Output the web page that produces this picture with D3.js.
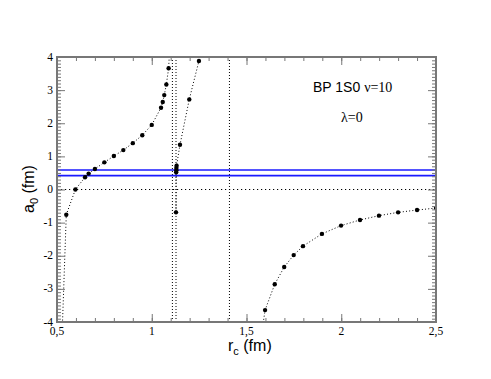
<!DOCTYPE html>
<html>
<head>
<meta charset="utf-8">
<script src="https://cdn.jsdelivr.net/npm/d3@7"></script>
<style>
  body { margin: 0; background: #fff; }
  svg { display: block; }
</style>
</head>
<body>
<div class="chart"></div>
<script>
    // Data
    var rc1 = [0.52, 0.549, 0.597, 0.648, 0.667, 0.70, 0.75, 0.80, 0.85, 0.90, 0.95, 1.00, 1.049, 1.058, 1.066, 1.077, 1.089, 1.10];
    var a1  = [-5.5, -0.76, 0.0, 0.37, 0.48, 0.62, 0.82, 1.01, 1.19, 1.40, 1.64, 1.95, 2.47, 2.64, 2.85, 3.17, 3.66, 4.8];
    var rc2 = [1.128, 1.129, 1.130, 1.130, 1.131, 1.149, 1.198, 1.249, 1.26];
    var a2  = [-0.69, 0.52, 0.58, 0.65, 0.72, 1.35, 2.72, 3.88, 4.2];
    var rc3 = [1.55, 1.598, 1.649, 1.699, 1.749, 1.798, 1.898, 1.999, 2.099, 2.199, 2.30, 2.40, 2.50];
    var a3  = [-5.56, -3.64, -2.86, -2.34, -1.98, -1.71, -1.34, -1.09, -0.92, -0.79, -0.69, -0.62, -0.56];
    // points outside the frame are only there so the line leaves the frame
    var vLines = [1.109, 1.128, 1.41];
    var blueLines = [0.59, 0.42];
    var xTicks = [0.5, 1, 1.5, 2, 2.5];
    var xTickLabels = ['0,5', '1', '1,5', '2', '2,5'];
    var yTicks = [-4, -3, -2, -1, 0, 1, 2, 3, 4];

    var W = 491, H = 379;
    var mLeft = 57, mRight = 436, mTop = 57, mBottom = 322;

    var x = d3.scaleLinear().domain([0.5, 2.5]).range([mLeft, mRight]);
    var y = d3.scaleLinear().domain([-4, 4]).range([mBottom, mTop]);

    var svg = d3.select('.chart')
        .append('svg')
            .attr('width', W)
            .attr('height', H);

    svg.append('clipPath').attr('id', 'clip')
        .append('rect')
            .attr('x', mLeft).attr('y', mTop)
            .attr('width', mRight - mLeft).attr('height', mBottom - mTop);

    var plot = svg.append('g').attr('clip-path', 'url(#clip)');

    // Reference lines
    plot.append('line')
        .attr('x1', x(0.5)).attr('x2', x(2.5))
        .attr('y1', y(0)).attr('y2', y(0))
        .attr('stroke', '#000').attr('stroke-width', 1.2)
        .attr('stroke-dasharray', '1.2,2.8');

    plot.selectAll('line.v')
        .data(vLines)
        .enter()
        .append('line')
            .attr('class', 'v')
            .attr('x1', function (d) { return x(d); })
            .attr('x2', function (d) { return x(d); })
            .attr('y1', y(-4)).attr('y2', y(4))
            .attr('stroke', '#000').attr('stroke-width', 1)
            .attr('stroke-dasharray', '1,2');

    plot.selectAll('line.blue')
        .data(blueLines)
        .enter()
        .append('line')
            .attr('class', 'blue')
            .attr('x1', x(0.5)).attr('x2', x(2.5))
            .attr('y1', function (d) { return y(d); })
            .attr('y2', function (d) { return y(d); })
            .attr('stroke', '#1a1aff').attr('stroke-width', 1.6);

    // Curves
    var line = d3.line()
        .x(function (d) { return x(d[0]); })
        .y(function (d) { return y(d[1]); });

    [[rc1, a1], [rc2, a2], [rc3, a3]].forEach(function (s) {
        var pts = s[0].map(function (r, i) { return [r, s[1][i]]; });
        plot.append('path')
            .datum(pts)
            .attr('d', line)
            .attr('fill', 'none')
            .attr('stroke', '#000').attr('stroke-width', 1)
            .attr('stroke-dasharray', '1,2.2');
        plot.selectAll(null)
            .data(pts.filter(function (d) { return d[1] > -4 && d[1] < 4; }))
            .enter()
            .append('circle')
                .attr('cx', function (d) { return x(d[0]); })
                .attr('cy', function (d) { return y(d[1]); })
                .attr('r', 2.2)
                .attr('fill', '#000');
    });

    // Axes (ticks inside the frame on all four sides)
    var axisColor = '#777';
    function styleAxis(g) {
        g.select('.domain').remove();
        g.selectAll('line').attr('stroke', axisColor).attr('stroke-width', 1);
        g.selectAll('text').remove();
    }
    var xMinor = d3.range(0.5, 2.501, 0.1);
    var yMinor = d3.range(-4, 4.001, 0.1);

    svg.append('g').attr('transform', 'translate(0,' + mBottom + ')')
        .call(d3.axisBottom(x).tickValues(xMinor).tickSize(-4)).call(styleAxis);
    svg.append('g').attr('transform', 'translate(0,' + mBottom + ')')
        .call(d3.axisBottom(x).tickValues(xTicks).tickSize(-8)).call(styleAxis);
    svg.append('g').attr('transform', 'translate(0,' + mTop + ')')
        .call(d3.axisTop(x).tickValues(xMinor).tickSize(-4)).call(styleAxis);
    svg.append('g').attr('transform', 'translate(0,' + mTop + ')')
        .call(d3.axisTop(x).tickValues(xTicks).tickSize(-8)).call(styleAxis);
    svg.append('g').attr('transform', 'translate(' + mLeft + ',0)')
        .call(d3.axisLeft(y).tickValues(yMinor).tickSize(-4)).call(styleAxis);
    svg.append('g').attr('transform', 'translate(' + mLeft + ',0)')
        .call(d3.axisLeft(y).tickValues(yTicks).tickSize(-8)).call(styleAxis);
    svg.append('g').attr('transform', 'translate(' + mRight + ',0)')
        .call(d3.axisRight(y).tickValues(yMinor).tickSize(-4)).call(styleAxis);
    svg.append('g').attr('transform', 'translate(' + mRight + ',0)')
        .call(d3.axisRight(y).tickValues(yTicks).tickSize(-8)).call(styleAxis);

    // Frame
    svg.append('rect')
        .attr('x', mLeft).attr('y', mTop)
        .attr('width', mRight - mLeft).attr('height', mBottom - mTop)
        .attr('fill', 'none').attr('stroke', axisColor).attr('stroke-width', 2);

    // Tick labels
    svg.selectAll('text.x')
        .data(xTicks)
        .enter()
        .append('text')
        .text(function (d, i) { return xTickLabels[i]; })
        .attr('text-anchor', 'middle')
        .attr('x', function (d) { return x(d); })
        .attr('y', mBottom + 13)
        .attr('font-family', "'Liberation Serif', 'DejaVu Serif', serif")
        .attr('font-size', 11.5);

    svg.selectAll('text.y')
        .data(yTicks)
        .enter()
        .append('text')
        .text(function (d) { return d; })
        .attr('text-anchor', 'end')
        .attr('x', mLeft - 4)
        .attr('y', function (d) { return y(d) + 3.5; })
        .attr('font-family', "'Liberation Serif', 'DejaVu Serif', serif")
        .attr('font-size', 11.5);

    // Axis titles
    var xt = svg.append('text')
        .attr('x', 228).attr('y', 351)
        .attr('font-family', "'Liberation Sans', Arial, sans-serif")
        .attr('font-size', 16);
    xt.append('tspan').text('r');
    xt.append('tspan').attr('font-size', 11).attr('dy', 4).text('c');
    xt.append('tspan').attr('dy', -4).text(' (fm)');

    var yt = svg.append('text')
        .attr('transform', 'translate(34,213) rotate(-90)')
        .attr('font-family', "'Liberation Sans', Arial, sans-serif")
        .attr('font-size', 16);
    yt.append('tspan').text('a');
    yt.append('tspan').attr('font-size', 11).attr('dy', 4).text('0');
    yt.append('tspan').attr('dy', -4).text(' (fm)');

    // Labels inside the frame
    var t1 = svg.append('text')
        .attr('x', 313).attr('y', 92)
        .attr('font-size', 14);
    t1.append('tspan').attr('font-family', "'Liberation Sans', Arial, sans-serif").text('BP 1S0 ');
    t1.append('tspan').attr('font-family', "'Liberation Serif', serif").text('ν=10');

    svg.append('text')
        .attr('x', 341).attr('y', 122)
        .attr('font-family', "'Liberation Serif', serif")
        .attr('font-size', 14)
        .text('λ=0');
</script>
</body>
</html>
